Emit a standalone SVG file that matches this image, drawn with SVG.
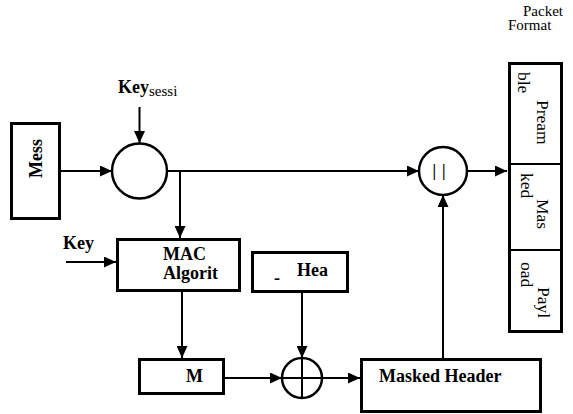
<svg xmlns="http://www.w3.org/2000/svg" width="573" height="414" viewBox="0 0 573 414">
<defs>
<style>
.box{fill:#fff;stroke:#000;stroke-width:3}
.circ{fill:#fff;stroke:#000;stroke-width:2.5}
.ln{fill:none;stroke:#000;stroke-width:2}
.arr{fill:none;stroke:#000;stroke-width:2;marker-end:url(#ah)}
text{font-family:'Liberation Serif','Times New Roman','DejaVu Serif',serif;fill:#000}
.b{font-weight:bold;font-size:18px}
.r{font-size:15px}
.pk{font-size:17.5px}
</style>
<marker id="ah" markerUnits="userSpaceOnUse" markerWidth="12" markerHeight="11" refX="12" refY="5.5" orient="auto">
<path d="M0,0 L12,5.5 L0,11 z" fill="#000"/>
</marker>
</defs>
<rect width="573" height="414" fill="#fff"/>

<g id="connectors">
<path class="arr" d="M61,171 H112"/>
<path class="arr" d="M139.5,107 V143"/>
<path class="arr" d="M167,171 H419"/>
<path class="arr" d="M180,171 V238"/>
<path class="arr" d="M66,262 H116"/>
<path class="arr" d="M182,292 V358"/>
<path class="arr" d="M302,293 V358"/>
<path class="arr" d="M225,378 H282"/>
<path class="arr" d="M322,378 H360"/>
<path class="arr" d="M443,358 V195"/>
<path class="arr" d="M467,171 H507"/>
</g>

<g id="message">
<rect class="box" x="11.5" y="123.5" width="48" height="95"/>
<text class="b" font-size="17.5" transform="translate(42,178) rotate(-90)">Mess</text>
</g>

<g id="key-session-label">
<text class="b" font-size="17.5" x="118" y="93">Key<tspan font-weight="normal" font-size="15" dy="3">sessi</tspan></text>
</g>

<g id="encrypt-circle">
<circle class="circ" cx="139.5" cy="171" r="27.5"/>
</g>

<g id="key-label">
<text class="b" font-size="17.5" x="63" y="249">Key</text>
</g>

<g id="mac-algorithm">
<rect class="box" x="117.5" y="239.5" width="122" height="51"/>
<text class="b" font-size="17.5" x="163" y="260">MAC</text>
<text class="b" font-size="17.5" x="163" y="279">Algorit</text>
</g>

<g id="mac">
<rect class="box" x="139.5" y="359.5" width="84" height="34"/>
<text class="b" x="186" y="382">M</text>
</g>

<g id="header">
<rect class="box" x="252.5" y="252.5" width="95" height="39"/>
<text class="b" font-size="12" x="274" y="284">-</text>
<text class="b" x="297" y="276">Hea</text>
</g>

<g id="xor">
<circle class="circ" cx="302" cy="378" r="20"/>
<path class="ln" d="M302,358 V398 M282,378 H322"/>
</g>

<g id="masked-header">
<rect class="box" x="361.5" y="359.5" width="179" height="52"/>
<text class="b" font-size="18.5" x="379" y="382">Masked Header</text>
</g>

<g id="concat">
<circle class="circ" cx="443" cy="171" r="24"/>
<text font-family="Liberation Sans, Arial, sans-serif" font-size="16" font-weight="bold" x="432.5" y="176" letter-spacing="6">||</text>
</g>

<g id="packet-format">
<text class="r" x="523" y="16">Packet</text>
<text class="r" x="508" y="30">Format</text>
<rect class="box" x="509.5" y="63.5" width="52" height="268"/>
<path class="ln" stroke-width="3" d="M508,164 H563 M508,250 H563"/>
<text class="pk" transform="translate(537,100) rotate(90)">Pream</text>
<text class="pk" transform="translate(518,72) rotate(90)">ble</text>
<text class="pk" transform="translate(537,199) rotate(90)">Mas</text>
<text class="pk" transform="translate(521,173) rotate(90)">ked</text>
<text class="pk" transform="translate(538,287) rotate(90)">Payl</text>
<text class="pk" transform="translate(521,262) rotate(90)">oad</text>
</g>
</svg>
